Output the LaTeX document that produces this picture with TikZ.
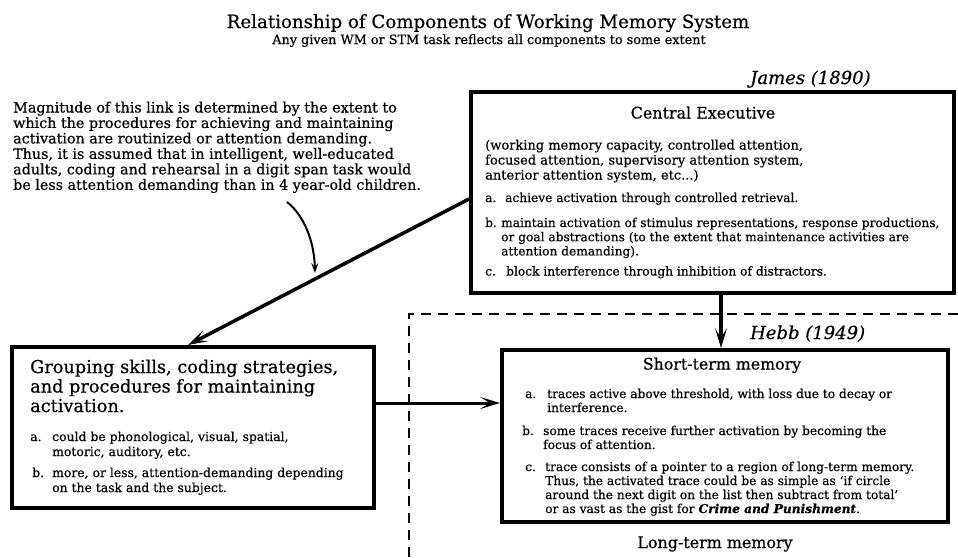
\documentclass[tikz,border=0pt]{standalone}
\usepackage{fontspec}
\setmainfont{DejaVu Serif}[FakeBold=0.5]
\usetikzlibrary{arrows.meta}
% font size / leading in one go
\newcommand\fs[2]{\fontsize{#1}{#2}\selectfont}
% list item: label in a fixed box, then a stack of lines
\newcommand\lbitem[3]{\makebox[#1][l]{#2}\begin{tabular}[t]{@{}l@{}}#3\end{tabular}}
\newcommand\lines[1]{\begin{tabular}[t]{@{}l@{}}#1\end{tabular}}

\begin{document}
\begin{tikzpicture}[x=1pt,y=1pt,
  box/.style={draw, line width=4pt, rectangle, inner sep=0pt},
  txt/.style={inner sep=0pt, anchor=base west},
  ctr/.style={inner sep=0pt, anchor=base},
  link/.style={line width=3.5pt, -{Stealth[length=20pt,width=12pt,inset=10pt]}},
  dashedline/.style={line width=2.5pt, dash pattern=on 10pt off 7pt},
]
\useasboundingbox (0,0) rectangle (958,-557);
\fill[white] (0,0) rectangle (958,-557);

% heading
\node[ctr, font=\fs{18.2}{20}] (title) at (488,-28)
  {Relationship of Components of Working Memory System};
\node[ctr, font=\fs{12.8}{14}] (subtitle) at (489,-44)
  {Any given WM or STM task reflects all components to some extent};

% long-term memory region (open dashed corner)
\draw[dashedline] (958,-314) -- (409,-314) -- (409,-557);

% boxes
\node[box, minimum width=483pt, minimum height=201pt] (ce) at (712.5,-192.5) {};
\node[box, minimum width=362pt, minimum height=161pt] (grp) at (193,-427.5) {};
\node[box, minimum width=446pt, minimum height=172pt] (stm) at (725,-436) {};

% labels of the models
\node[txt, font=\fs{18}{20}\itshape] (james) at (750,-84) {James (1890)};
\node[txt, font=\fs{18}{20}\itshape] (hebb) at (750,-339) {Hebb (1949)};

% note on the link strength
\node[txt, font=\fs{14.3}{15.3}] (note) at (13,-112.5) {\lines{%
Magnitude of this link is determined by the extent to\\
which the procedures for achieving and maintaining\\
activation are routinized or attention demanding.\\
Thus, it is assumed that in intelligent, well-educated\\
adults, coding and rehearsal in a digit span task would\\
be less attention demanding than in 4 year-old children.}};

% central executive
\node[ctr, font=\fs{15.9}{18}] (cetitle) at (703,-118.5) {Central Executive};
\node[txt, font=\fs{13}{15}] (ceparen) at (485,-149.5) {\lines{%
(working memory capacity, controlled attention,\\
focused attention, supervisory attention system,\\
anterior attention system, etc...)}};
\node[txt, font=\fs{12.2}{14.2}] (cea) at (485,-202)
  {\lbitem{20pt}{a.}{achieve activation through controlled retrieval.}};
\node[txt, font=\fs{12.2}{14.2}] (ceb) at (485,-227)
  {\lbitem{16pt}{b.}{maintain activation of stimulus representations, response productions,\\
  or goal abstractions (to the extent that maintenance activities are\\
  attention demanding).}};
\node[txt, font=\fs{12.2}{14.2}] (cec) at (485,-275.5)
  {\lbitem{21pt}{c.}{block interference through inhibition of distractors.}};

% grouping skills
\node[txt, font=\fs{17.7}{19.5}] (grptitle) at (30,-373) {\lines{%
Grouping skills, coding strategies,\\
and procedures for maintaining\\
activation.}};
\node[txt, font=\fs{12.4}{15}] (grpa) at (30,-441)
  {\lbitem{22pt}{a.}{could be phonological, visual, spatial,\\ motoric, auditory, etc.}};
\node[txt, font=\fs{12.4}{15}] (grpb) at (32,-477)
  {\lbitem{20pt}{b.}{more, or less, attention-demanding depending\\ on the task and the subject.}};

% short-term memory
\node[ctr, font=\fs{15.8}{18}] (stmtitle) at (722,-369.5) {Short-term memory};
\node[txt, font=\fs{12.2}{14}] (stma) at (525,-398)
  {\lbitem{22pt}{a.}{traces active above threshold, with loss due to decay or\\ interference.}};
\node[txt, font=\fs{12.2}{14}] (stmb) at (522,-435)
  {\lbitem{21pt}{b.}{some traces receive further activation by becoming the\\ focus of attention.}};
\node[txt, font=\fs{12.2}{14}] (stmc) at (525,-471)
  {\lbitem{20pt}{c.}{trace consists of a pointer to a region of long-term memory.\\
  Thus, the activated trace could be as simple as `if circle\\
  around the next digit on the list then subtract from total'\\
  or as vast as the gist for \textbf{\textit{Crime and Punishment}}.}};

\node[ctr, font=\fs{15.9}{18}] (ltm) at (715,-548) {Long-term memory};

% connectors
\coordinate (vx) at (721,0);
\coordinate (hy) at (0,-403);
\draw[link] ([yshift=-6.5pt]ce.west) -- ([xshift=-5pt]grp.north);
\draw[link, line width=4pt] (ce.south -| vx) -- (stm.north -| vx);
\draw[link, line width=3pt] (grp.east |- hy) -- (stm.west |- hy);

\coordinate (curvestart) at (287,-202);
\coordinate (curveend) at (315,-273);
\draw[line width=2pt, -{Stealth[length=10pt,width=7pt,inset=4pt]}]
  (curvestart) .. controls (300,-212) and (314,-235) .. (curveend);
\end{tikzpicture}
\end{document}
